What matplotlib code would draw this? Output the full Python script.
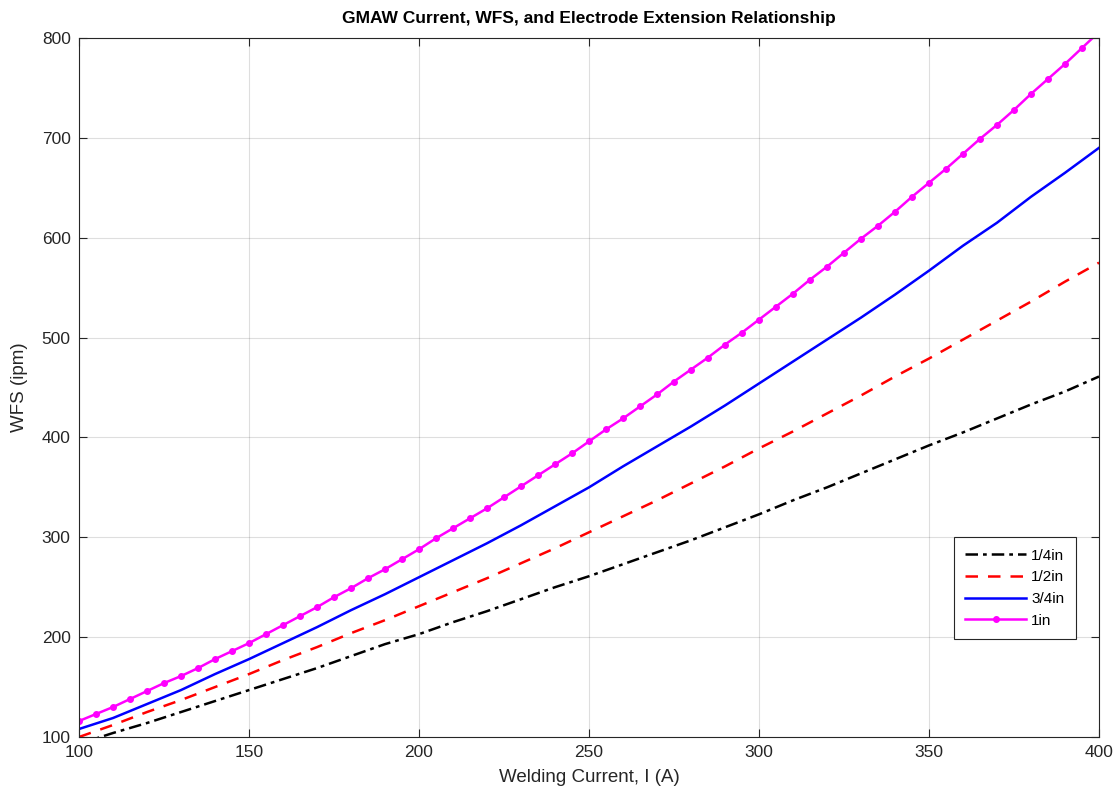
import matplotlib
matplotlib.use("Agg")
import matplotlib.pyplot as plt

plt.rcParams['font.family'] = ['Liberation Sans', 'DejaVu Sans']

# 1in curve, read every 5 A (markers)
current_5 = list(range(100, 405, 5))
wfs_1in = [116, 123, 130, 138, 146, 154, 161, 169, 178, 186,
           194, 203, 212, 221, 230, 240, 249, 259, 268, 278,
           288, 299, 309, 319, 329, 340, 351, 362, 373, 384,
           396, 408, 419, 431, 443, 456, 468, 480, 493, 505,
           518, 531, 544, 558, 571, 585, 599, 612, 626, 641,
           655, 669, 684, 699, 713, 728, 744, 759, 774, 790, 806]

# the other curves, read every 10 A
current_10 = list(range(100, 410, 10))
wfs_quarter = [93, 104, 114, 125, 136, 147, 158, 169, 181, 193,
               203, 215, 226, 238, 250, 261, 273, 285, 297, 310,
               323, 337, 350, 364, 378, 392, 405, 419, 433, 446, 461]
wfs_half = [100, 112, 125, 137, 150, 163, 177, 190, 204, 217,
            231, 245, 259, 274, 289, 305, 321, 337, 354, 371,
            389, 406, 424, 442, 461, 479, 498, 517, 536, 556, 575]
wfs_3quarter = [108, 119, 133, 147, 163, 178, 194, 210, 227, 243,
                260, 277, 294, 312, 331, 350, 371, 391, 411, 432,
                454, 476, 498, 520, 543, 567, 592, 615, 641, 665, 690]

dark = '#262626'

fig = plt.figure(figsize=(11.16, 8.01), dpi=100)
ax = fig.add_axes([79 / 1116, 1 - 737 / 801, 1020 / 1116, 699 / 801])

ax.plot(current_10, wfs_quarter, color='black', linestyle='-.', linewidth=1.8,
        dashes=(5, 2, 1.5, 2), label='1/4in')
ax.plot(current_10, wfs_half, color='#ff0000', linestyle='--', linewidth=1.8,
        dashes=(5, 4), label='1/2in')
ax.plot(current_10, wfs_3quarter, color='#0000ff', linestyle='-', linewidth=1.8,
        label='3/4in')
ax.plot(current_5, wfs_1in, color='#ff00ff', linestyle='-', linewidth=1.8,
        marker='o', markersize=4, label='1in')

ax.set_xlim(100, 400)
ax.set_ylim(100, 800)
ax.set_xticks(range(100, 450, 50))
ax.set_yticks(range(100, 900, 100))
ax.grid(True, color='#262626', alpha=0.15, linewidth=0.8)
ax.tick_params(direction='in', top=True, right=True, length=6, width=0.8,
               colors=dark, labelsize=12.5, labelcolor=dark, pad=6)
for s in ax.spines.values():
    s.set_color(dark)
    s.set_linewidth(0.8)

ax.set_xlabel('Welding Current, I (A)', fontsize=13.5, color=dark, labelpad=6)
ax.set_ylabel('WFS (ipm)', fontsize=13.5, color=dark, labelpad=10)
ax.set_title('GMAW Current, WFS, and Electrode Extension Relationship',
             fontsize=12.5, fontweight='bold', color='black', pad=11)

leg = ax.legend(loc='lower right', bbox_to_anchor=(0.977, 0.140), fontsize=11,
                fancybox=False, framealpha=1, edgecolor=dark, borderpad=0.75,
                borderaxespad=0, handlelength=4.0, labelspacing=0.5,
                handletextpad=0.3)
leg.get_frame().set_linewidth(0.8)

fig.savefig('out.png', dpi=100)
